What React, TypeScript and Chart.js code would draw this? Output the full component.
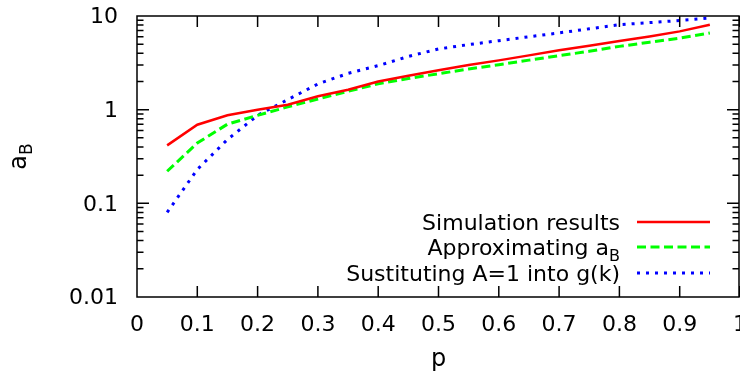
import React, { useEffect, useRef } from "react";
import { Chart, registerables } from "chart.js";

Chart.register(...registerables);

// ---- data ----
const pValues = [0.05, 0.1, 0.15, 0.2, 0.25, 0.3, 0.35, 0.4, 0.45, 0.5, 0.55, 0.6, 0.65, 0.7, 0.75, 0.8, 0.85, 0.9, 0.95];
const simulationResults = [0.416, 0.69, 0.87, 1.0, 1.13, 1.39, 1.63, 2.0, 2.3, 2.63, 3.0, 3.36, 3.8, 4.3, 4.8, 5.4, 6.05, 6.85, 8.07];
const approximatingAB = [0.22, 0.44, 0.7, 0.87, 1.07, 1.3, 1.57, 1.89, 2.15, 2.42, 2.72, 3.02, 3.38, 3.77, 4.2, 4.74, 5.25, 5.8, 6.58];
const substitutingA1 = [0.08, 0.23, 0.48, 0.87, 1.28, 1.88, 2.44, 2.95, 3.7, 4.45, 4.95, 5.45, 6.0, 6.6, 7.3, 8.07, 8.5, 8.95, 9.5];

const seriesLabels = ["Simulation results", "Approximating a", "Sustituting A=1 into g(k)"];
const seriesSubscripts = ["", "B", ""];
const seriesColors = ["#ff0000", "#00ff00", "#0000ff"];
const seriesDashes: number[][] = [[], [9, 4.5], [3, 6]];
const seriesWidths = [2.5, 3, 3];

const xTickValues = [0, 0.1, 0.2, 0.3, 0.4, 0.5, 0.6, 0.7, 0.8, 0.9, 1];
const yDecades = [0.01, 0.1, 1];
const yMax = 10;
const xTitle = "p";
const yTitle = "a";
const yTitleSub = "B";

const FONT = "'DejaVu Sans', 'Liberation Sans', sans-serif";

const yAllTicks: number[] = [];
for (const d of yDecades) {
  for (let k = 1; k <= 9; k++) yAllTicks.push(Number((d * k).toPrecision(3)));
}
yAllTicks.push(yMax);

const isPow10 = (v: number) => {
  const l = Math.log10(v);
  return Math.abs(l - Math.round(l)) < 1e-9;
};

const overlayPlugin = {
  id: "overlay",
  afterDraw(chart: any) {
    const { ctx, chartArea: a, scales } = chart;
    const xs = scales.x;
    const ys = scales.y;
    ctx.save();
    ctx.strokeStyle = "#000";
    ctx.lineWidth = 1.5;
    ctx.setLineDash([]);
    ctx.beginPath();
    for (const v of xTickValues) {
      const px = xs.getPixelForValue(v);
      ctx.moveTo(px, a.bottom);
      ctx.lineTo(px, a.bottom - 11);
      ctx.moveTo(px, a.top);
      ctx.lineTo(px, a.top + 11);
    }
    const rightX = a.right - 1;
    for (const t of ys.ticks) {
      const py = ys.getPixelForValue(t.value);
      const len = isPow10(t.value) ? 12 : 6.5;
      ctx.moveTo(a.left, py);
      ctx.lineTo(a.left + len, py);
      ctx.moveTo(rightX, py);
      ctx.lineTo(rightX - len, py);
    }
    // frame
    ctx.moveTo(a.left, a.top);
    ctx.lineTo(rightX, a.top);
    ctx.lineTo(rightX, a.bottom);
    ctx.lineTo(a.left, a.bottom);
    ctx.closePath();
    ctx.stroke();

    // legend
    ctx.fillStyle = "#000";
    const textRight = 620;
    const sx0 = 637;
    const sx1 = 710;
    const rowY = [222, 247, 273];
    for (let i = 0; i < seriesLabels.length; i++) {
      const y = rowY[i];
      ctx.font = `22px ${FONT}`;
      const wMain = ctx.measureText(seriesLabels[i]).width;
      let wSub = 0;
      if (seriesSubscripts[i]) {
        ctx.font = `16px ${FONT}`;
        wSub = ctx.measureText(seriesSubscripts[i]).width;
      }
      const start = textRight - wMain - wSub;
      ctx.textAlign = "left";
      ctx.textBaseline = "alphabetic";
      ctx.font = `22px ${FONT}`;
      ctx.fillText(seriesLabels[i], start, y + 8);
      if (seriesSubscripts[i]) {
        ctx.font = `16px ${FONT}`;
        ctx.fillText(seriesSubscripts[i], start + wMain, y + 14);
      }
      ctx.strokeStyle = seriesColors[i];
      ctx.lineWidth = seriesWidths[i];
      ctx.setLineDash(seriesDashes[i]);
      ctx.beginPath();
      ctx.moveTo(sx0, y);
      ctx.lineTo(sx1, y);
      ctx.stroke();
    }
    ctx.setLineDash([]);

    // x title
    ctx.fillStyle = "#000";
    ctx.font = `24px ${FONT}`;
    ctx.textAlign = "center";
    ctx.textBaseline = "alphabetic";
    ctx.fillText(xTitle, (a.left + a.right) / 2, 366);

    // y title (rotated, with subscript)
    ctx.save();
    ctx.font = `24px ${FONT}`;
    const wa = ctx.measureText(yTitle).width;
    ctx.font = `17px ${FONT}`;
    const wb = ctx.measureText(yTitleSub).width;
    const cy = (a.top + a.bottom) / 2;
    ctx.translate(26, cy);
    ctx.rotate(-Math.PI / 2);
    ctx.textAlign = "left";
    ctx.font = `24px ${FONT}`;
    ctx.fillText(yTitle, -(wa + wb) / 2, 0);
    ctx.font = `17px ${FONT}`;
    ctx.fillText(yTitleSub, -(wa + wb) / 2 + wa, 6);
    ctx.restore();

    ctx.restore();
  },
};

export default function App() {
  const ref = useRef<HTMLCanvasElement>(null);

  useEffect(() => {
    const canvas = ref.current;
    if (!canvas) return;
    const mk = (vals: number[]) => pValues.map((p, i) => ({ x: p, y: vals[i] }));
    const allSeries = [simulationResults, approximatingAB, substitutingA1];
    const chart = new Chart(canvas, {
      type: "line",
      data: {
        datasets: allSeries.map((vals, i) => ({
          label: seriesLabels[i] + seriesSubscripts[i],
          data: mk(vals),
          borderColor: seriesColors[i],
          backgroundColor: seriesColors[i],
          borderWidth: seriesWidths[i],
          borderDash: seriesDashes[i],
          pointRadius: 0,
          tension: 0,
          fill: false,
        })),
      },
      options: {
        animation: false,
        responsive: false,
        devicePixelRatio: 1,
        layout: { padding: { top: 16, left: 0, right: 20, bottom: 0 } },
        plugins: {
          legend: { display: false },
          tooltip: { enabled: false },
          title: { display: false },
        },
        scales: {
          x: {
            type: "linear",
            min: 0,
            max: 1,
            grid: { display: false, drawTicks: false },
            border: { display: false },
            afterBuildTicks: (scale: any) => {
              scale.ticks = xTickValues.map((v) => ({ value: v }));
            },
            afterFit: (scale: any) => {
              scale.height = 79;
              scale.paddingLeft = 0;
              scale.paddingRight = 0;
            },
            ticks: {
              autoSkip: false,
              maxRotation: 0,
              padding: 15,
              color: "#000",
              font: { family: FONT, size: 22 },
              callback: (v: any) => Number(v).toFixed(1).replace(/\.0$/, ""),
            },
          },
          y: {
            type: "logarithmic",
            min: 0.01,
            max: yMax,
            grid: { display: false, drawTicks: false },
            border: { display: false },
            afterBuildTicks: (scale: any) => {
              scale.ticks = yAllTicks.map((v) => ({ value: v }));
            },
            afterFit: (scale: any) => {
              scale.width = 137;
              scale.paddingTop = 0;
              scale.paddingBottom = 0;
            },
            ticks: {
              autoSkip: false,
              padding: 19,
              labelOffset: 1.5,
              color: "#000",
              font: { family: FONT, size: 22 },
              callback: (v: any) => (isPow10(Number(v)) ? String(Number(v)) : ""),
            },
          },
        },
      },
      plugins: [overlayPlugin],
    } as any);
    return () => chart.destroy();
  }, []);

  return (
    <div
      style={{
        position: "fixed",
        left: 0,
        top: 0,
        width: 740,
        height: 376,
        overflow: "hidden",
        background: "#fff",
      }}
    >
      <canvas ref={ref} width={760} height={376} style={{ display: "block", width: 760, height: 376 }} />
    </div>
  );
}
